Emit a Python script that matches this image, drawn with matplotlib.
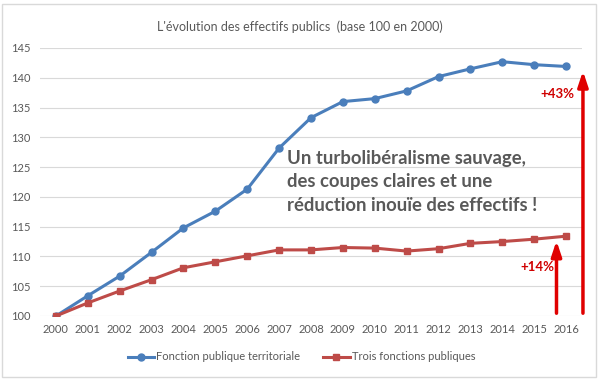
import matplotlib.pyplot as plt
from matplotlib.lines import Line2D
from matplotlib.patches import Rectangle

plt.rcParams['font.family'] = ['Lato', 'DejaVu Sans']

years = [str(y) for y in range(2000, 2017)]
territoriale = [100, 103.4, 106.7, 110.7, 114.8, 117.6, 121.3, 128.2, 133.3,
                136.0, 136.5, 137.8, 140.2, 141.5, 142.7, 142.2, 141.9]
trois_fp = [100, 102.2, 104.2, 106.1, 108.1, 109.1, 110.1, 111.1, 111.1,
            111.5, 111.4, 110.9, 111.3, 112.2, 112.5, 112.9, 113.4]
label_terr = 'Fonction publique territoriale'
label_trois = 'Trois fonctions publiques'

blue = '#4A7EBB'
red = '#BE4B48'
grey = '#595959'

fig = plt.figure(figsize=(6, 3.81), dpi=100)
ax = fig.add_axes([40/600, 1-316/381, 542/600, 268/381])

x = range(len(years))
ax.plot(x, territoriale, color=blue, lw=2.2, marker='o', ms=5, label=label_terr)
ax.plot(x, trois_fp, color=red, lw=2.2, marker='s', ms=5, label=label_trois, zorder=3)

ax.set_xlim(-0.5, len(years) - 0.5)
ax.set_ylim(100, 145)
ax.set_yticks(range(100, 146, 5))
ax.set_xticks(list(x))
ax.set_xticklabels(years)
ax.grid(axis='y', color='#D9D9D9', lw=0.8)
ax.set_axisbelow(True)
for s in ax.spines.values():
    s.set_visible(False)
ax.tick_params(length=0, labelsize=8, colors=grey, pad=6)
ax.tick_params(axis='y', pad=7)

fig.text(0.5, 1-27/381, "L'évolution des effectifs publics  (base 100 en 2000)",
         ha='center', va='center', fontsize=9, color=grey)

# red arrows
ax.annotate('', xy=(15.7, trois_fp[-1] - 0.3), xytext=(15.7, 100),
            arrowprops=dict(arrowstyle='-|>,head_width=0.3,head_length=0.9',
                            color='#E00000', lw=2.5), annotation_clip=False)
ax.annotate('', xy=(16.53, territoriale[-1] - 0.3), xytext=(16.53, 100),
            arrowprops=dict(arrowstyle='-|>,head_width=0.3,head_length=0.9',
                            color='#E00000', lw=2.5), annotation_clip=False)
ax.text(16.27, 137.3, '+43%', color='#D00000', fontsize=9.5, fontweight='bold',
        ha='right', va='center')
ax.text(15.62, 108.2, '+14%', color='#D00000', fontsize=9.5, fontweight='bold',
        ha='right', va='center')

ax.text(7.25, 122.5, 'Un turbolibéralisme sauvage,\ndes coupes claires et une\n'
        'réduction inouïe des effectifs !', color=grey, fontsize=13.3,
        fontweight='bold', ha='left', va='center', linespacing=1.45)

handles = [Line2D([], [], color=blue, lw=2.2, marker='o', ms=5),
           Line2D([], [], color=red, lw=2.2, marker='s', ms=5)]
fig.legend(handles, [label_terr, label_trois], loc='center',
           bbox_to_anchor=(301.5/600, 1-357/381), ncol=2, frameon=False,
           fontsize=8, labelcolor=grey, handlelength=2.35, handletextpad=0.2,
           columnspacing=2.1)

fig.patches.append(Rectangle((2/600, 4/381), 594/600, 373/381, transform=fig.transFigure,
                             fill=False, edgecolor='#D9D9D9', lw=1))

fig.savefig('out.png', dpi=100)
